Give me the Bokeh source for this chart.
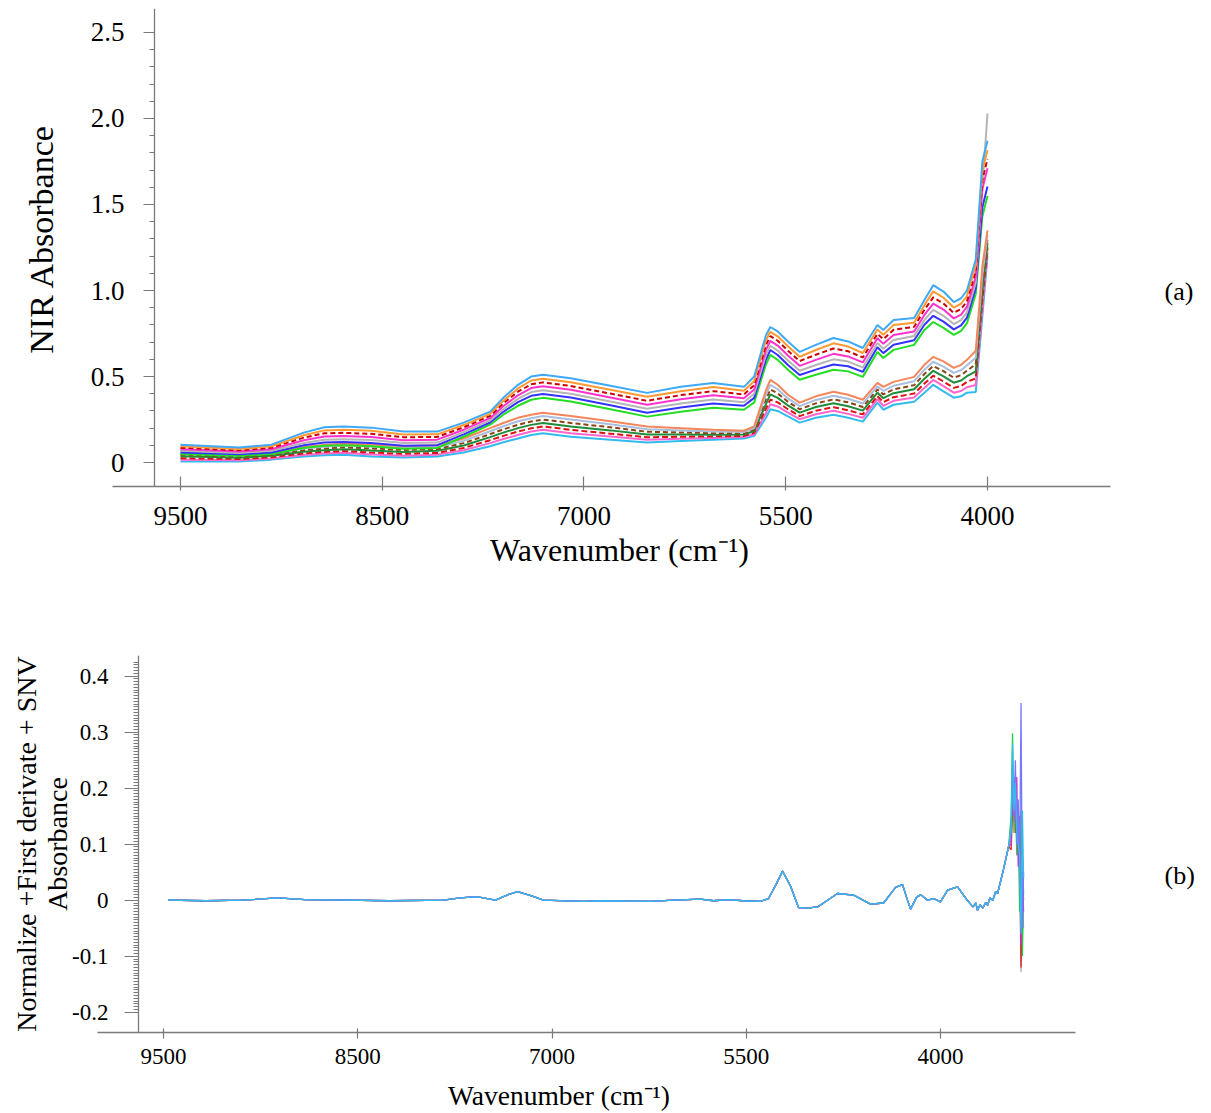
import math
from bokeh.plotting import figure
from bokeh.models import Range1d, FixedTicker, LinearAxis
from bokeh.embed import file_html
from bokeh.resources import INLINE

FONT = "Liberation Serif"

# ---------------- panel (a): raw NIR spectra (absorbance) ----------------
wavenumber_a = [9500, 9100, 8880, 8660, 8520, 8390, 8200, 7980, 7750, 7570, 7390, 7300,
                7200, 7110, 7030, 6840, 6570, 6320, 6090, 5870, 5660, 5590, 5510, 5480,
                5430, 5360, 5280, 5170, 5050, 4950, 4850, 4750, 4710, 4640, 4500, 4430,
                4370, 4300, 4230, 4180, 4140, 4080, 4035, 4000]

upper_1 = [0.104, 0.087, 0.104, 0.174, 0.205, 0.209, 0.203, 0.180, 0.180, 0.232, 0.296, 0.376, 0.452, 0.500, 0.510, 0.490, 0.446, 0.405, 0.440, 0.463, 0.440, 0.500, 0.740, 0.788, 0.762, 0.704, 0.643, 0.684, 0.724, 0.704, 0.666, 0.800, 0.771, 0.829, 0.840, 0.945, 1.031, 0.994, 0.933, 0.955, 1.000, 1.180, 1.750, 1.870]
upper_2 = [0.095, 0.079, 0.095, 0.159, 0.187, 0.190, 0.185, 0.163, 0.164, 0.218, 0.283, 0.359, 0.431, 0.477, 0.487, 0.467, 0.423, 0.382, 0.415, 0.439, 0.417, 0.474, 0.711, 0.760, 0.734, 0.676, 0.615, 0.654, 0.693, 0.674, 0.637, 0.773, 0.743, 0.799, 0.813, 0.915, 0.995, 0.958, 0.901, 0.923, 0.968, 1.146, 1.696, 1.816]
upper_3 = [0.086, 0.071, 0.086, 0.145, 0.170, 0.173, 0.167, 0.147, 0.149, 0.205, 0.271, 0.344, 0.412, 0.455, 0.466, 0.445, 0.401, 0.359, 0.392, 0.415, 0.396, 0.450, 0.684, 0.735, 0.708, 0.650, 0.590, 0.627, 0.663, 0.647, 0.611, 0.748, 0.717, 0.772, 0.789, 0.888, 0.960, 0.924, 0.870, 0.892, 0.937, 1.114, 1.644, 1.764]
upper_4 = [0.077, 0.064, 0.077, 0.130, 0.152, 0.155, 0.149, 0.130, 0.133, 0.191, 0.258, 0.327, 0.391, 0.433, 0.443, 0.423, 0.378, 0.336, 0.368, 0.391, 0.374, 0.425, 0.655, 0.707, 0.680, 0.622, 0.562, 0.597, 0.632, 0.617, 0.582, 0.722, 0.690, 0.742, 0.762, 0.858, 0.924, 0.889, 0.838, 0.860, 0.905, 1.080, 1.590, 1.710]
upper_gray = [0.068, 0.056, 0.068, 0.114, 0.133, 0.136, 0.131, 0.113, 0.116, 0.177, 0.245, 0.310, 0.370, 0.410, 0.420, 0.400, 0.355, 0.313, 0.343, 0.367, 0.351, 0.400, 0.626, 0.679, 0.651, 0.593, 0.534, 0.567, 0.600, 0.587, 0.553, 0.695, 0.662, 0.712, 0.735, 0.828, 0.888, 0.853, 0.805, 0.828, 0.873, 1.046, 1.600, 2.030]
upper_6 = [0.059, 0.048, 0.059, 0.100, 0.116, 0.119, 0.113, 0.097, 0.101, 0.164, 0.233, 0.295, 0.351, 0.388, 0.399, 0.378, 0.333, 0.290, 0.320, 0.343, 0.330, 0.376, 0.599, 0.654, 0.625, 0.567, 0.509, 0.540, 0.570, 0.560, 0.527, 0.670, 0.636, 0.685, 0.711, 0.801, 0.853, 0.819, 0.774, 0.797, 0.842, 1.014, 1.484, 1.604]
upper_7 = [0.050, 0.040, 0.050, 0.085, 0.098, 0.100, 0.095, 0.080, 0.085, 0.150, 0.220, 0.278, 0.330, 0.365, 0.376, 0.355, 0.310, 0.267, 0.295, 0.319, 0.307, 0.350, 0.570, 0.626, 0.597, 0.539, 0.481, 0.510, 0.539, 0.530, 0.498, 0.643, 0.608, 0.655, 0.684, 0.771, 0.817, 0.783, 0.742, 0.765, 0.810, 0.980, 1.430, 1.550]

lower_1 = [0.065, 0.050, 0.060, 0.090, 0.102, 0.110, 0.105, 0.095, 0.100, 0.140, 0.200, 0.230, 0.260, 0.278, 0.290, 0.270, 0.240, 0.210, 0.200, 0.190, 0.185, 0.210, 0.420, 0.481, 0.452, 0.394, 0.348, 0.385, 0.411, 0.394, 0.365, 0.463, 0.440, 0.469, 0.498, 0.568, 0.614, 0.588, 0.550, 0.568, 0.597, 0.650, 1.140, 1.350]
lower_2 = [0.055, 0.043, 0.053, 0.081, 0.092, 0.099, 0.093, 0.084, 0.089, 0.126, 0.182, 0.211, 0.240, 0.258, 0.270, 0.250, 0.222, 0.194, 0.187, 0.180, 0.177, 0.201, 0.393, 0.452, 0.426, 0.373, 0.328, 0.364, 0.388, 0.371, 0.343, 0.443, 0.417, 0.446, 0.473, 0.540, 0.586, 0.558, 0.521, 0.537, 0.565, 0.609, 1.091, 1.324]
lower_3 = [0.046, 0.035, 0.046, 0.072, 0.082, 0.089, 0.082, 0.073, 0.079, 0.113, 0.165, 0.193, 0.220, 0.239, 0.250, 0.230, 0.205, 0.179, 0.175, 0.171, 0.170, 0.192, 0.367, 0.425, 0.402, 0.353, 0.310, 0.344, 0.367, 0.350, 0.323, 0.425, 0.396, 0.425, 0.450, 0.515, 0.561, 0.531, 0.493, 0.508, 0.534, 0.571, 1.044, 1.300]
lower_4 = [0.036, 0.028, 0.039, 0.063, 0.072, 0.078, 0.070, 0.062, 0.068, 0.099, 0.148, 0.174, 0.200, 0.219, 0.230, 0.210, 0.187, 0.163, 0.163, 0.162, 0.163, 0.183, 0.340, 0.396, 0.376, 0.332, 0.290, 0.323, 0.345, 0.327, 0.302, 0.406, 0.374, 0.403, 0.426, 0.487, 0.533, 0.501, 0.464, 0.477, 0.502, 0.530, 0.995, 1.275]
lower_5 = [0.025, 0.021, 0.031, 0.053, 0.062, 0.067, 0.058, 0.051, 0.056, 0.085, 0.130, 0.155, 0.180, 0.199, 0.210, 0.190, 0.168, 0.147, 0.150, 0.152, 0.155, 0.173, 0.313, 0.366, 0.350, 0.310, 0.270, 0.301, 0.322, 0.304, 0.280, 0.386, 0.351, 0.380, 0.401, 0.459, 0.505, 0.471, 0.434, 0.445, 0.469, 0.489, 0.946, 1.250]
lower_6 = [0.016, 0.013, 0.024, 0.044, 0.052, 0.057, 0.047, 0.040, 0.046, 0.072, 0.113, 0.137, 0.160, 0.180, 0.190, 0.170, 0.151, 0.132, 0.138, 0.143, 0.148, 0.164, 0.287, 0.339, 0.326, 0.290, 0.252, 0.281, 0.301, 0.283, 0.260, 0.368, 0.330, 0.359, 0.378, 0.434, 0.480, 0.444, 0.406, 0.416, 0.438, 0.451, 0.899, 1.226]
lower_7 = [0.006, 0.006, 0.017, 0.035, 0.042, 0.046, 0.035, 0.029, 0.035, 0.058, 0.095, 0.118, 0.140, 0.160, 0.170, 0.150, 0.133, 0.116, 0.125, 0.133, 0.140, 0.155, 0.260, 0.310, 0.300, 0.269, 0.232, 0.260, 0.278, 0.260, 0.238, 0.348, 0.307, 0.336, 0.353, 0.406, 0.452, 0.414, 0.377, 0.385, 0.406, 0.410, 0.850, 1.200]

spectra_a = [
    (lower_7, "#33bbee", "solid"), (lower_6, "#ff66cc", "solid"), (lower_5, "#dd1111", "6 3"),
    (lower_4, "#1e8c3a", "solid"), (lower_3, "#8b4513", "5 3"), (lower_2, "#a9bfe0", "solid"),
    (lower_1, "#f4865c", "solid"),
    (upper_7, "#22dd22", "solid"), (upper_6, "#3333ff", "solid"), (upper_gray, "#b5b5b5", "solid"),
    (upper_4, "#ff33cc", "solid"), (upper_3, "#cc0000", "5 3"), (upper_2, "#ff9933", "solid"),
    (upper_1, "#3fa9f5", "solid"),
]

# ---------------- panel (b): Normalize + first derivative + SNV ----------------
wavenumber_b_main = [9465, 9200, 8950, 8693, 8500, 8200, 7900, 7518, 7400, 7300, 7256, 7150,
                     7060, 6994, 6900, 6810, 6527, 6407, 6053, 5890, 5699, 5607, 5500, 5400,
                     5274, 5217, 5160, 5118, 5061, 5005, 4941, 4870, 4800, 4729, 4615, 4495,
                     4403, 4318, 4269, 4240, 4212, 4170, 4141, 4092, 4049, 4000, 3950, 3879,
                     3808, 3770, 3750, 3738, 3720, 3700, 3680, 3667, 3650, 3630, 3610, 3596,
                     3554, 3518]
deriv_main = [0.0, -0.001, 0.0, 0.004, 0.001, 0.0, -0.001, 0.0, 0.004, 0.006, 0.005, 0.0,
              0.010, 0.0155, 0.008, 0.0, -0.002, -0.001, -0.002, 0.0, 0.002, -0.001, 0.001, -0.001,
              -0.002, 0.003, 0.030, 0.052, 0.025, -0.013, -0.014, -0.012, 0.0, 0.012, 0.009, -0.007,
              -0.005, 0.023, 0.028, 0.005, -0.016, 0.005, 0.010, 0.0, 0.003, -0.003, 0.018, 0.024,
              -0.001, -0.012, -0.005, -0.018, -0.008, -0.014, -0.004, -0.009, 0.004, 0.0, 0.015, 0.012,
              0.055, 0.096]
wavenumber_b_tail = [3500, 3490, 3480, 3470, 3460, 3450, 3440, 3430, 3420, 3412]
tail_gray = [0.11, 0.18, 0.14, 0.20, 0.09, 0.14, 0.03, -0.128, 0.0, -0.05]
tail_red = [0.09, 0.16, 0.22, 0.12, 0.17, 0.08, 0.15, -0.12, 0.03, 0.0]
tail_green = [0.15, 0.298, 0.12, 0.20, 0.08, 0.17, -0.02, 0.16, -0.10, 0.02]
tail_magenta = [0.10, 0.24, 0.18, 0.14, 0.22, 0.06, 0.12, -0.08, 0.05, -0.02]
tail_blue = [0.12, 0.20, 0.15, 0.25, 0.10, 0.18, 0.05, 0.352, -0.05, 0.05]
tail_cyan = [0.13, 0.28, 0.16, 0.21, 0.12, 0.10, 0.08, -0.06, 0.16, 0.04]

spectra_b = [
    (tail_gray, "#aaaaaa"), (tail_red, "#dd2222"), (tail_green, "#22cc44"),
    (tail_magenta, "#cc33cc"), (tail_blue, "#7777ff"), (tail_cyan, "#33bbee"),
]

# ---------------- axes ticks and texts ----------------
x_tick_positions = [9500, 8125, 6750, 5375, 4000]
x_tick_labels = ["9500", "8500", "7000", "5500", "4000"]
y_ticks_a = [0, 0.5, 1.0, 1.5, 2.0, 2.5]
y_tick_labels_a = ["0", "0.5", "1.0", "1.5", "2.0", "2.5"]
y_ticks_b = [-0.2, -0.1, 0, 0.1, 0.2, 0.3, 0.4]
y_tick_labels_b = ["-0.2", "-0.1", "0", "0.1", "0.2", "0.3", "0.4"]
x_title = "Wavenumber (cm\u207b\u00b9)"
y_title_a = "NIR Absorbance"
y_title_b = "Normalize +First derivate + SNV\nAbsorbance"

AXIS_COLOR = "#7a7a7a"


def base_style(p):
    p.xgrid.grid_line_color = None
    p.ygrid.grid_line_color = None
    p.outline_line_color = None
    p.background_fill_color = "white"
    p.border_fill_color = "white"


def label_only_axis(ax, ticks=None, labels=None, size="27px"):
    """axis that draws only tick labels (and maybe a title), no line/ticks"""
    ax.axis_line_color = None
    ax.major_tick_line_color = None
    ax.minor_tick_line_color = None
    ax.major_tick_in = 0
    ax.major_tick_out = 0
    ax.minor_tick_in = 0
    ax.minor_tick_out = 0
    if ticks is None:
        ax.ticker = FixedTicker(ticks=[])
    else:
        ax.ticker = FixedTicker(ticks=ticks)
        ax.major_label_overrides = dict(zip(ticks, labels))
    ax.major_label_text_font = FONT
    ax.major_label_text_font_size = size
    ax.major_label_text_color = "black"
    ax.axis_label_text_font = FONT
    ax.axis_label_text_font_style = "normal"
    ax.axis_label_text_color = "black"


def rule_axis(loc, ticks, minor, tick_len, minor_len):
    """axis line + ticks placed at a data location (on the right panel, ticks pointing left)"""
    ax = LinearAxis(fixed_location=loc, ticker=FixedTicker(ticks=ticks, minor_ticks=minor))
    ax.axis_line_color = AXIS_COLOR
    ax.axis_line_width = 1.3
    ax.major_tick_line_color = AXIS_COLOR
    ax.major_tick_line_width = 1.2
    ax.minor_tick_line_color = AXIS_COLOR
    ax.minor_tick_line_width = 1
    ax.major_tick_in = tick_len
    ax.major_tick_out = 0
    ax.minor_tick_in = minor_len
    ax.minor_tick_out = 0
    ax.major_label_text_font_size = "0px"
    ax.major_label_text_color = None
    ax.major_label_standoff = 0
    return ax


def style_x_axis(ax, tick_in, tick_out, size, standoff):
    ax.ticker = FixedTicker(ticks=x_tick_positions)
    ax.major_label_overrides = dict(zip(x_tick_positions, x_tick_labels))
    ax.axis_line_color = AXIS_COLOR
    ax.axis_line_width = 1.3
    ax.major_tick_line_color = AXIS_COLOR
    ax.major_tick_line_width = 1.2
    ax.minor_tick_line_color = None
    ax.major_tick_in = tick_in
    ax.major_tick_out = tick_out
    ax.major_label_text_font = FONT
    ax.major_label_text_font_size = size
    ax.major_label_text_color = "black"
    ax.major_label_standoff = standoff


# ---------- figure (a) ----------
p1 = figure(width=1200, height=570, output_backend="svg", toolbar_location=None,
            x_range=Range1d(9963.4, 3161.7), y_range=Range1d(-0.1392, 2.6392),
            min_border_left=112, min_border_right=90, min_border_top=8, min_border_bottom=83)
base_style(p1)
for vals, col, dash in spectra_a:
    p1.line(wavenumber_a, vals, line_color=col, line_width=2, line_dash=dash)

style_x_axis(p1.xaxis[0], 10, 4, "27px", 16)

t1 = LinearAxis()
label_only_axis(t1)
t1.axis_label = "\u2002" + x_title
t1.axis_label_text_font_size = "32px"
t1.axis_label_standoff = 4
p1.add_layout(t1, "below")

ya = p1.yaxis[0]
label_only_axis(ya, y_ticks_a, y_tick_labels_a, "27px")
ya.major_label_standoff = -12
ya.axis_label = "\u2002" + y_title_a
ya.axis_label_text_font_size = "34px"
ya.axis_label_standoff = 28

p1.add_layout(rule_axis(9677.2, y_ticks_a, [round(0.1 * i, 1) for i in range(26)], 11, 5), "right")

tag_a = LinearAxis()
label_only_axis(tag_a)
tag_a.axis_label = "\n(a)"
tag_a.axis_label_text_font_size = "26px"
tag_a.axis_label_text_line_height = 3.0
tag_a.axis_label_orientation = "horizontal"
tag_a.axis_label_standoff = 54
p1.add_layout(tag_a, "right")

# ---------- figure (b) ----------
p2 = figure(width=1200, height=543, output_backend="svg", toolbar_location=None,
            x_range=Range1d(9967.2, 3044.4), y_range=Range1d(-0.2362, 0.4369),
            min_border_left=97, min_border_right=125, min_border_top=85, min_border_bottom=79)
base_style(p2)
for tail, col in spectra_b:
    p2.line(wavenumber_b_main + wavenumber_b_tail, deriv_main + tail,
            line_color=col, line_width=1.3)

style_x_axis(p2.xaxis[0], 4, 6, "23px", 10)

t2 = LinearAxis()
label_only_axis(t2)
t2.axis_label = x_title + "\u2003\u2003"
t2.axis_label_text_font_size = "27.5px"
t2.axis_label_text_line_height = 1.0
t2.axis_label_standoff = 13
p2.add_layout(t2, "below")

yb = p2.yaxis[0]
label_only_axis(yb, y_ticks_b, y_tick_labels_b, "23px")
yb.major_label_standoff = -11
yb.axis_label = y_title_b
yb.axis_label_text_font_size = "28px"
yb.axis_label_text_line_height = 1.0
yb.axis_label_standoff = -4

p2.add_layout(rule_axis(9677.0, y_ticks_b, [round(-0.2 + 0.005 * i, 3) for i in range(126)], 14, 5), "right")

tag_b = LinearAxis()
label_only_axis(tag_b)
tag_b.axis_label = "\n(b)"
tag_b.axis_label_text_font_size = "26px"
tag_b.axis_label_text_line_height = 2.2
tag_b.axis_label_orientation = "horizontal"
tag_b.axis_label_standoff = 89
p2.add_layout(tag_b, "right")

open("out.html", "w").write(file_html([p1, p2], INLINE))
